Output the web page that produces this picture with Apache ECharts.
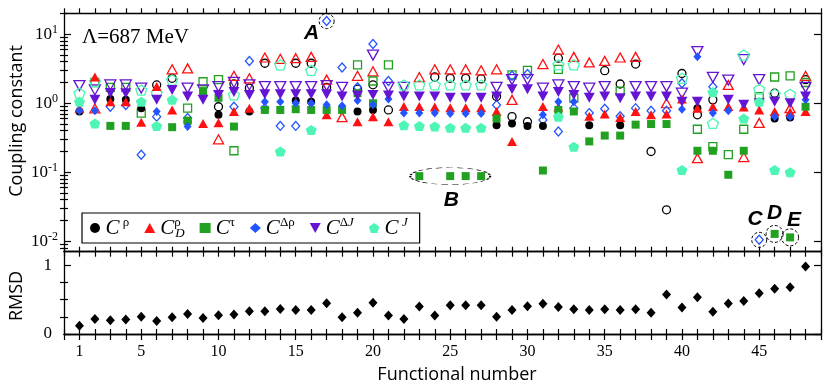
<!DOCTYPE html>
<html>
<head>
<meta charset="utf-8">
<script src="https://cdn.jsdelivr.net/npm/echarts@6/dist/echarts.min.js"></script>
<style>
html,body{margin:0;padding:0;background:#fff}
#chart{width:830px;height:390px}
</style>
</head>
<body>
<div id="chart"></div>
<script>
var N = null;
var functionalNo = [1,2,3,4,5,6,7,8,9,10,11,12,13,14,15,16,17,18,19,20,21,22,23,24,25,26,27,28,29,30,31,32,33,34,35,36,37,38,39,40,41,42,43,44,45,46,47,48];

// coupling constants, filled / open markers, one entry per functional
var rhoFilled  = [0.76,N,1.15,1.12,0.85,N,N,0.54,N,0.68,N,0.76,N,N,1.1,1.05,N,N,0.76,0.8,N,N,N,N,N,N,N,0.48,0.51,0.47,0.47,N,N,0.48,N,0.48,N,N,N,N,0.85,N,N,N,N,0.6,0.62,N];
var rhoOpen    = [N,N,N,N,N,1.84,2.3,N,N,0.89,1.9,1.66,3.8,N,3.8,3.8,1.7,N,1.6,1.85,0.8,N,N,2.4,2.3,2.3,2.25,1.25,0.64,0.54,N,4.5,N,N,2.96,1.9,3.7,0.2,0.0286,2.7,0.68,1.12,N,N,N,1.4,N,2.2];
var dFilled    = [0.85,2.4,1.05,1.05,0.53,1.75,0.8,N,0.51,0.52,0.76,0.85,N,N,N,N,0.68,N,0.54,0.64,0.54,0.9,0.9,0.88,0.86,0.86,0.86,0.76,0.28,N,0.9,0.88,N,0.65,0.7,0.62,0.76,0.68,0.7,1.15,0.85,0.89,0.9,0.88,0.8,0.76,0.75,0.76];
var dOpen      = [N,0.84,N,N,N,N,3.1,3.2,N,0.3,2.5,2.3,4.6,4.4,4.5,4.7,2.2,0.63,2.5,2.9,N,N,2.4,3.1,3.1,3.1,3.0,3.1,1.12,N,3.7,6.0,4.7,3.9,4.1,4.6,4.7,N,1.0,N,0.16,N,1.84,0.166,0.52,N,0.85,2.5];
var tauFilled  = [N,N,0.47,0.47,N,N,0.45,0.56,1.5,1.2,0.46,N,0.8,0.8,0.82,0.8,0.8,0.8,1.4,1.0,N,N,0.088,N,0.088,0.088,0.088,0.6,N,N,0.106,0.8,0.76,0.28,0.34,0.34,0.49,0.5,0.5,N,0.205,0.205,0.092,0.205,N,0.0128,0.0114,0.89];
var tauOpen    = [N,2.0,1.7,1.7,0.72,N,N,0.85,2.05,2.2,0.205,N,N,N,N,N,N,N,3.6,2.1,3.6,N,N,N,N,N,N,N,2.57,3.0,N,3.1,1.19,N,N,1.5,N,N,N,N,0.42,0.235,0.18,0.42,1.25,2.4,2.5,2.0];
var drFilled   = [0.78,0.78,N,N,N,0.76,N,0.46,N,N,N,N,1.05,1.05,1.0,1.0,0.95,0.92,1.1,0.95,1.15,0.72,0.72,0.72,0.71,0.71,0.71,N,N,N,0.68,1.05,1.05,N,N,N,N,N,N,0.82,4.7,0.72,0.78,N,N,0.64,0.64,1.12];
var drOpen     = [N,N,0.89,0.94,0.18,0.64,N,0.61,N,N,0.89,4.1,0.85,0.47,0.47,N,15.5,3.3,1.7,7.2,2.1,N,N,N,N,N,N,0.94,2.5,2.65,0.57,0.39,0.85,0.72,0.83,0.65,0.85,0.78,0.78,1.95,N,1.74,N,N,0.0105,N,N,N];
var djFilled   = [N,1.12,1.41,1.4,N,1.12,1.56,1.25,1.12,1.32,1.45,1.32,1.35,1.35,1.35,1.35,1.35,1.25,1.3,1.32,1.3,1.25,1.25,1.25,1.2,1.2,1.2,1.25,1.6,1.6,1.25,1.45,1.32,1.2,1.25,1.18,1.25,1.25,1.25,1.05,1.05,N,1.12,0.95,1.0,1.05,1.0,1.25];
var djOpen     = [1.8,1.56,1.84,1.84,1.66,N,N,1.66,1.56,1.74,2.0,1.84,1.74,1.74,1.74,1.74,1.8,1.7,N,5.0,1.7,1.7,N,N,N,N,N,1.7,2.2,2.2,1.65,1.84,1.74,1.65,1.74,N,1.74,1.74,1.74,1.4,5.6,2.38,2.17,4.3,2.2,N,N,1.7];
var jFilled    = [1.05,0.51,N,N,1.05,0.47,1.12,N,N,N,N,N,N,0.2,N,0.41,N,N,N,N,N,0.48,0.47,0.46,0.44,0.44,0.44,N,N,N,N,0.64,0.235,N,N,N,N,N,N,0.108,N,1.45,N,0.6,1.05,0.108,0.1,N];
var jOpen      = [1.4,2.05,N,N,1.55,1.4,2.17,N,N,N,1.32,N,N,3.6,N,3.0,N,N,N,N,N,1.84,1.84,1.84,1.84,1.84,1.84,N,N,N,N,3.6,3.6,N,N,N,N,N,N,2.3,N,0.51,N,5.0,1.6,1.35,1.35,N];

var rmsd = [0.12,0.22,0.2,0.21,0.25,0.19,0.245,0.29,0.235,0.275,0.285,0.33,0.33,0.365,0.35,0.35,0.45,0.245,0.31,0.455,0.27,0.22,0.4,0.27,0.42,0.42,0.42,0.25,0.35,0.405,0.44,0.395,0.36,0.35,0.36,0.35,0.36,0.31,0.575,0.385,0.535,0.325,0.445,0.48,0.595,0.66,0.68,0.985];

var xLabels = [1,5,10,15,20,25,30,35,40,45];
var logLabels = [0.01,0.1,1,10];
var rmsdLabels = [0,1];
var rmsdMinor = [0.25,0.5,0.75];

var logMinor = [];
[0.001,0.01,0.1,1,10].forEach(function(d){ for (var m = 2; m <= 9; m++) logMinor.push(+(m*d).toPrecision(3)); });

var YMIN = 0.00707, YMAX = 20.1;
var SERIF = 'Liberation Serif';

var SYM = {
    rho: 'circle', d: 'triangle', tau: 'rect', dr: 'diamond',
    dj: 'path://M0,0L10,0L5,9Z',
    j: 'path://M5,0L10,3.63L8.09,9.51L1.91,9.51L0,3.63Z'
};
var SIZE = { rho: 8, d: [10,9], tau: 8, dr: [8,9], dj: [11,10], j: [11,10] };
var COL = { rho: '#000000', d: '#ff1111', tau: '#22a022', dr: '#2255ff', dj: '#6414d2', j: '#4ef5b4' };

function pts(arr){
    return arr.map(function(v,i){ return v == null ? null : [functionalNo[i], v]; }).filter(function(p){ return p; });
}
function sc(name, arr, filled){
    var c = COL[name];
    return {
        type: 'scatter', name: name, xAxisIndex: 0, yAxisIndex: 0,
        data: pts(arr), symbol: SYM[name], symbolSize: SIZE[name],
        z: filled ? 4 : 3, silent: true,
        itemStyle: filled ? { color: c, opacity: 1 } : { color: 'rgba(255,255,255,0)', borderColor: c, borderWidth: 1.3, opacity: 1 }
    };
}

var letterLabel = function(dx, dy){
    return { show: true, formatter: '{b}', offset: [dx, dy], fontFamily: 'Liberation Sans', fontWeight: 'bold', fontStyle: 'italic', fontSize: 21, color: '#000' };
};
var dashed = { color: 'rgba(0,0,0,0)', borderColor: '#000', borderWidth: 1, borderType: [3,2], opacity: 1 };

var series = [
    sc('rho', rhoFilled, true), sc('d', dFilled, true), sc('tau', tauFilled, true),
    sc('dr', drFilled, true), sc('dj', djFilled, true), sc('j', jFilled, true),
    sc('rho', rhoOpen, false), sc('d', dOpen, false), sc('tau', tauOpen, false),
    sc('dr', drOpen, false), sc('dj', djOpen, false), sc('j', jOpen, false),
    {
        type: 'scatter', name: 'rmsd', xAxisIndex: 3, yAxisIndex: 4,
        data: pts(rmsd), symbol: 'diamond', symbolSize: [9,10], silent: true,
        itemStyle: { color: '#000', opacity: 1 }
    }
];
// annotations A-E
series[9].markPoint = {
    silent: true, symbol: 'circle', symbolSize: 15, itemStyle: dashed,
    data: [
        { name: 'A', coord: [17, drOpen[16]], label: letterLabel(-15, 12) },
        { name: 'C', coord: [45, drOpen[44]], label: letterLabel(-4, -21) }
    ]
};
series[2].markPoint = {
    silent: true, symbol: 'circle', symbolSize: 17, itemStyle: dashed,
    data: [
        { name: 'B', coord: [25, tauFilled[24]], symbolSize: [80, 17], label: letterLabel(1, 24) },
        { name: 'D', coord: [46, tauFilled[45]], label: letterLabel(0, -21) },
        { name: 'E', coord: [47, tauFilled[46]], label: letterLabel(4, -17) }
    ]
};

var axisLine = { show: true, onZero: false, lineStyle: { color: '#000', width: 1.3 } };
var tickStyle = { color: '#000', width: 1.2 };

function xAx(grid, pos, inside, len, labels){
    return {
        type: 'value', gridIndex: grid, position: pos, min: 0, max: 49, interval: 1,
        axisLine: axisLine, splitLine: { show: false },
        axisTick: { show: true, inside: inside, length: len, lineStyle: tickStyle },
        axisLabel: labels ? { show: true, customValues: xLabels, fontFamily: SERIF, fontSize: 16, color: '#000', margin: 10 } : { show: false }
    };
}
function yLog(pos, major, labels){
    return {
        type: 'log', gridIndex: 0, position: pos, min: YMIN, max: YMAX, logBase: 10,
        axisLine: major ? axisLine : { show: false }, splitLine: { show: false },
        axisTick: { show: true, inside: true, length: major ? 7 : 4, customValues: major ? logLabels : logMinor, lineStyle: tickStyle },
        axisLabel: labels ? {
            show: true, customValues: logLabels, margin: 6, color: '#000',
            formatter: function(v){ return '{b|10}{e|' + Math.round(Math.log10(v)) + '}'; },
            rich: {
                b: { fontFamily: SERIF, fontSize: 17, lineHeight: 20, color: '#000' },
                e: { fontFamily: SERIF, fontSize: 12, lineHeight: 12, verticalAlign: 'top', color: '#000' }
            }
        } : { show: false }
    };
}
function yLin(pos, major, labels){
    return {
        type: 'value', gridIndex: 1, position: pos, min: 0, max: 1.2,
        axisLine: major ? axisLine : { show: false }, splitLine: { show: false },
        axisTick: { show: true, inside: true, length: major ? 7 : 4, customValues: major ? rmsdLabels : rmsdMinor, lineStyle: tickStyle },
        axisLabel: labels ? { show: true, customValues: rmsdLabels, fontFamily: SERIF, fontSize: 17, color: '#000', margin: 12 } : { show: false }
    };
}

var legendText = {
    rho: '{c|C}{sp| ρ}',
    d: '{c|C}{spz|ρ}{sub|D}',
    tau: '{c|C}{sp|τ}',
    dr: '{c|C}{sp|Δρ}',
    dj: '{c|C}{sp|Δ}{spi|J}',
    j: '{c|C}{sp| }{spi|J}'
};

var option = {
    animation: false,
    backgroundColor: '#fff',
    title: {
        text: 'Λ=687 MeV', left: 77, top: 22,
        textStyle: { fontFamily: SERIF, fontWeight: 'normal', fontSize: 21, color: '#000' }
    },
    grid: [
        { left: 64, right: 9, top: 13.3, height: 238.4 },
        { left: 64, right: 9, top: 251.7, height: 82.3 }
    ],
    xAxis: [
        xAx(0, 'top', false, 5, false),
        xAx(0, 'bottom', true, 5, false),
        xAx(1, 'top', true, 5, false),
        xAx(1, 'bottom', false, 6, true),
        xAx(1, 'bottom', true, 5, false)
    ],
    yAxis: [
        yLog('left', true, true), yLog('left', false, false),
        yLog('right', true, false), yLog('right', false, false),
        yLin('left', true, true), yLin('left', false, false),
        yLin('right', true, false), yLin('right', false, false)
    ],
    legend: {
        left: 82, top: 213, orient: 'horizontal',
        padding: [3, 12, 3, 8], itemGap: 15, itemWidth: 11, itemHeight: 10,
        borderColor: '#000', borderWidth: 1.2, selectedMode: false,
        data: [
            { name: 'rho', icon: 'circle' },
            { name: 'd', icon: 'triangle' },
            { name: 'tau', icon: 'rect' },
            { name: 'dr', icon: 'diamond' },
            { name: 'dj', icon: SYM.dj },
            { name: 'j', icon: SYM.j }
        ],
        formatter: function(n){ return legendText[n]; },
        textStyle: {
            color: '#000', padding: [0, 0, 0, 0],
            rich: {
                c: { fontFamily: SERIF, fontStyle: 'italic', fontSize: 21, lineHeight: 24, color: '#000' },
                sp: { fontFamily: SERIF, fontSize: 13, lineHeight: 13, verticalAlign: 'top', color: '#000' },
                spi: { fontFamily: SERIF, fontStyle: 'italic', fontSize: 13, lineHeight: 13, verticalAlign: 'top', color: '#000' },
                spz: { fontFamily: SERIF, fontSize: 13, lineHeight: 13, width: 1, verticalAlign: 'top', color: '#000' },
                sub: { fontFamily: SERIF, fontStyle: 'italic', fontSize: 13, lineHeight: 13, verticalAlign: 'bottom', color: '#000' }
            }
        }
    },
    graphic: [
        { type: 'text', x: 17, y: 121, rotation: Math.PI / 2,
          style: { text: 'Coupling constant', font: '18px "Open Sans"', fill: '#000', align: 'center', verticalAlign: 'middle' } },
        { type: 'text', x: 17, y: 296, rotation: Math.PI / 2,
          style: { text: 'RMSD', font: '18px "Open Sans"', fill: '#000', align: 'center', verticalAlign: 'middle' } },
        { type: 'text', x: 457, y: 375,
          style: { text: 'Functional number', font: '18px "Open Sans"', fill: '#000', align: 'center', verticalAlign: 'middle' } }
    ],
    series: series
};

var chart = echarts.init(document.getElementById('chart'), null, { renderer: 'canvas' });
chart.setOption(option);
</script>
</body>
</html>
